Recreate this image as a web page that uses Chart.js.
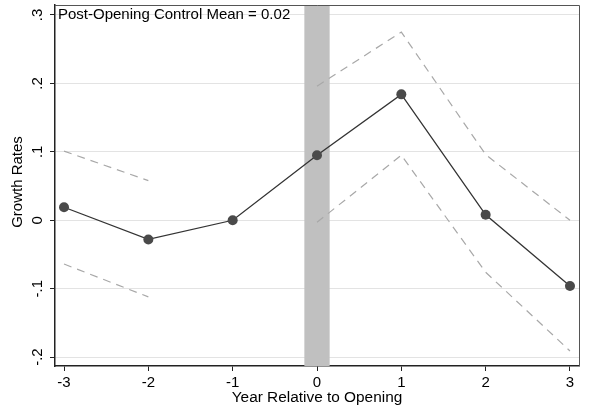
<!DOCTYPE html>
<html>
<head>
<meta charset="utf-8">
<script src="https://cdn.jsdelivr.net/npm/chart.js@4"></script>
<style>
  html, body { margin: 0; padding: 0; background: #fff; }
  #wrap { width: 589px; height: 410px; }
</style>
</head>
<body>
<div id="wrap"><canvas id="myChart"></canvas></div>
<script>
var years = [-3, -2, -1, 0, 1, 2, 3];
var estimates = [0.019, -0.028, 0.0, 0.095, 0.184, 0.008, -0.096];
var upperCI = [0.101, 0.058, null, 0.196, 0.275, 0.096, 0.0];
var lowerCI = [-0.064, -0.112, null, -0.003, 0.095, -0.076, -0.191];
var yTickValues = [-0.2, -0.1, 0, 0.1, 0.2, 0.3];
var yTickLabels = ["-.2", "-.1", "0", ".1", ".2", ".3"];
var xTickValues = [-3, -2, -1, 0, 1, 2, 3];
var shadeRange = [-0.15, 0.15];
var noteText = "Post-Opening Control Mean = 0.02";
var noteY = 0.3;

var fontFamily = "'Liberation Sans', Arial, sans-serif";
Chart.defaults.font.family = fontFamily;
Chart.defaults.font.size = 15;
Chart.defaults.color = "#000";

function toPoints(vals) {
    return years.map((x, i) => ({ x: x, y: vals[i] }));
}

var ciStyle = {
    borderColor: "#a8a8a8",
    borderWidth: 1.2,
    borderDash: [8, 6],
    pointRadius: 0,
    spanGaps: false,
    fill: false,
    tension: 0,
};

// shaded opening year, frame, rotated y labels, titles and note
var extras = {
    id: "extras",
    beforeDatasetsDraw(chart) {
        const { ctx, chartArea, scales: { x } } = chart;
        const x0 = x.getPixelForValue(shadeRange[0]);
        const x1 = x.getPixelForValue(shadeRange[1]);
        ctx.save();
        ctx.fillStyle = "#c0c0c0";
        ctx.fillRect(x0, chartArea.top, x1 - x0, chartArea.bottom - chartArea.top);
        ctx.restore();
    },
    afterDraw(chart) {
        const { ctx, chartArea, scales: { y } } = chart;
        ctx.save();
        // top and right frame
        ctx.strokeStyle = "#555";
        ctx.lineWidth = 1;
        ctx.beginPath();
        ctx.moveTo(chartArea.left, chartArea.top + 0.5);
        ctx.lineTo(chartArea.right + 0.5, chartArea.top + 0.5);
        ctx.lineTo(chartArea.right + 0.5, chartArea.bottom);
        ctx.stroke();

        ctx.fillStyle = "#000";
        ctx.font = "15px " + fontFamily;
        ctx.textAlign = "center";
        ctx.textBaseline = "middle";
        yTickValues.forEach((v, i) => {
            const py = y.getPixelForValue(v);
            ctx.save();
            ctx.translate(38, py);
            ctx.rotate(-Math.PI / 2);
            ctx.fillText(yTickLabels[i], 0, 0);
            ctx.restore();
        });

        ctx.save();
        ctx.translate(18, 182);
        ctx.rotate(-Math.PI / 2);
        ctx.fillText("Growth Rates", 0, 0);
        ctx.restore();

        ctx.font = "15.4px " + fontFamily;
        ctx.fillText("Year Relative to Opening", (chartArea.left + chartArea.right) / 2, 398);

        ctx.textAlign = "left";
        ctx.font = "15px " + fontFamily;
        ctx.fillText(noteText, chartArea.left + 3, y.getPixelForValue(noteY));
        ctx.restore();
    },
};

new Chart("myChart", {
    type: "line",
    data: {
        datasets: [
            {
                data: toPoints(estimates),
                borderColor: "#333",
                borderWidth: 1.3,
                pointRadius: 5,
                pointBackgroundColor: "#4a4a4a",
                pointBorderColor: "#4a4a4a",
                pointBorderWidth: 0,
                tension: 0,
                order: 0,
            },
            Object.assign({ data: toPoints(upperCI), order: 1 }, ciStyle),
            Object.assign({ data: toPoints(lowerCI), order: 1 }, ciStyle),
        ],
    },
    options: {
        responsive: true,
        maintainAspectRatio: false,
        animation: false,
        layout: { padding: { top: 5, right: 10, left: 0, bottom: 0 } },
        scales: {
            x: {
                type: "linear",
                min: -3.107,
                max: 3.107,
                afterBuildTicks: scale => {
                    scale.ticks = xTickValues.map(v => ({ value: v }));
                },
                afterFit: scale => {
                    scale.height = 44;
                },
                ticks: {
                    padding: 3,
                    color: "#000",
                    font: { size: 15 },
                    callback: v => String(v),
                },
                grid: {
                    drawOnChartArea: false,
                    tickLength: 5,
                    tickColor: "#222",
                },
                border: { color: "#222", width: 1.5 },
            },
            y: {
                type: "linear",
                min: -0.213,
                max: 0.3146,
                afterBuildTicks: scale => {
                    scale.ticks = yTickValues.map(v => ({ value: v }));
                },
                afterFit: scale => {
                    scale.width = 55;
                },
                ticks: { display: false },
                grid: {
                    color: "#e3e3e3",
                    lineWidth: 1,
                    tickLength: 5,
                    tickColor: "#222",
                },
                border: { color: "#222", width: 1.5 },
            },
        },
        plugins: {
            legend: { display: false },
            tooltip: { enabled: false },
        },
    },
    plugins: [extras],
});
</script>
</body>
</html>
